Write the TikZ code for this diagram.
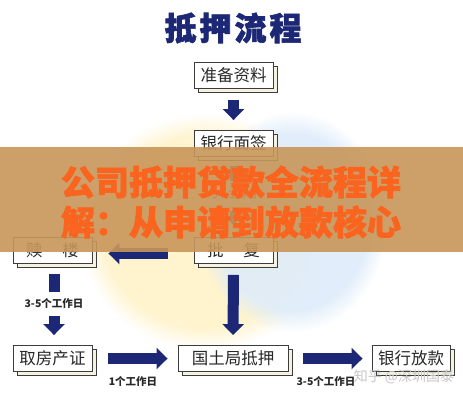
\documentclass[tikz,border=0pt]{standalone}
\usepackage{fontspec}
\newfontfamily\cjk{Noto Sans CJK SC}
\newfontfamily\cjkh[BoldFeatures={FakeBold=2}]{Noto Sans CJK SC}
\usetikzlibrary{arrows.meta,shadows,fadings}
\definecolor{navy}{RGB}{28,40,118}
\definecolor{boxline}{RGB}{60,60,60}
\definecolor{cream}{RGB}{245,242,226}
\definecolor{txtgray}{RGB}{40,40,40}
\definecolor{bandc}{RGB}{200,150,90}
\definecolor{orangec}{RGB}{250,100,30}
\definecolor{glowy}{RGB}{255,244,205}
\definecolor{glowb}{RGB}{222,236,250}
\begin{document}
\begin{tikzpicture}[x=1pt,y=-1pt,
  box/.style={draw=boxline, line width=0.9pt, fill=white, minimum height=26pt, inner sep=0pt,
    font=\cjk\fontsize{16.5}{16.5}\selectfont, text=txtgray,
    general shadow={shadow xshift=4pt, shadow yshift=-4pt, fill=cream, draw=boxline, line width=0.9pt}},
  barrow/.style={draw=navy, line width=11pt, -{Triangle[length=11pt, width=21pt]}},
  bline/.style={draw=navy, line width=11pt},
  sarrow/.style={draw=navy, line width=8pt, -{Triangle[length=9pt, width=17pt]}},
  sline/.style={draw=navy, line width=8pt},
  lbl/.style={font=\cjk\bfseries\fontsize{10.5}{10.5}\selectfont, text=txtgray, inner sep=0pt}]
\useasboundingbox (0,0) rectangle (463,400);
\fill[white] (0,0) rectangle (463,400);
% background glow
\fill[glowy, path fading=circle with fuzzy edge 20 percent] (205,232) ellipse (125pt and 118pt);
\fill[glowb, opacity=0.9, path fading=circle with fuzzy edge 20 percent] (292,222) ellipse (95pt and 110pt);

% title
\node[font=\cjkh\bfseries\fontsize{32}{32}\selectfont, text=navy] (title) at (233,28)
  {抵\hspace{3pt}押\hspace{3pt}流\hspace{3pt}程};

% boxes
\node[box, minimum width=79pt] (prep) at (233.5,75.5) {准备资料};
\node[box, minimum width=79pt] (sign) at (233.5,143.5) {银行面签};
\node[box, minimum width=79pt] (pifu) at (233.5,250.5) {批\hspace{1.2em}复};
\node[box, minimum width=79pt] (shulou) at (52.5,250.5) {赎\hspace{1.2em}楼};
\node[box, minimum width=79pt] (quzheng) at (52.5,358.5) {取房产证};
\node[box, minimum width=110pt] (guotu) at (233,358.5) {国土局抵押};
\node[box, minimum width=78pt] (fangkuan) at (411,358.5) {银行放款};

% labels
\node[lbl, font=\cjk\fontsize{10}{10}\selectfont] (l5) at (235,195) {5个工作日};
\node[lbl] (l35a) at (54,303) {3-5个工作日};
\node[lbl] (l1) at (133,381) {1个工作日};
\node[lbl] (l35b) at (326,381) {3-5个工作日};

% arrows
\draw[sline, shorten <=9pt, shorten >=9pt] (sign.south) -- (l5.north -| sign.south);
\draw[sarrow, shorten <=11pt, shorten >=12pt] (l5.south -| pifu.north) -- (pifu.north);
\draw[barrow, shorten <=11.5pt, shorten >=10pt] (prep.south) -- (sign.north);
\draw[barrow, shorten <=26pt, shorten >=16pt] ([yshift=-3pt]pifu.west) -- ([yshift=-3pt]shulou.east);
\draw[barrow, shorten <=11pt, shorten >=10pt] (pifu.south) -- (guotu.north);
\draw[bline, shorten <=10.5pt, shorten >=5.5pt] (shulou.south -| l35a.north) -- (l35a.north);
\draw[barrow, shorten <=7.5pt, shorten >=10pt] (l35a.south) -- (quzheng.north -| l35a.south);
\draw[barrow, shorten <=16pt, shorten >=10pt] (quzheng.east) -- (guotu.west);
\draw[barrow, shorten <=15pt, shorten >=9pt] (guotu.east) -- (fangkuan.west);

% overlay band
\fill[bandc, opacity=0.9] (0,147) rectangle (463,252);
\node[font=\cjkh\bfseries\fontsize{34}{34}\selectfont, text=orangec] (h1) at (231,182) {公司抵押贷款全流程详};
\node[font=\cjkh\bfseries\fontsize{34}{34}\selectfont, text=orangec] (h2) at (231,222) {解：从申请到放款核心};

% watermark
\node[font=\cjk\fontsize{14}{14}\selectfont, text=black!22] (wm) at (404,377) {知乎 @深圳国泰};
\end{tikzpicture}
\end{document}
